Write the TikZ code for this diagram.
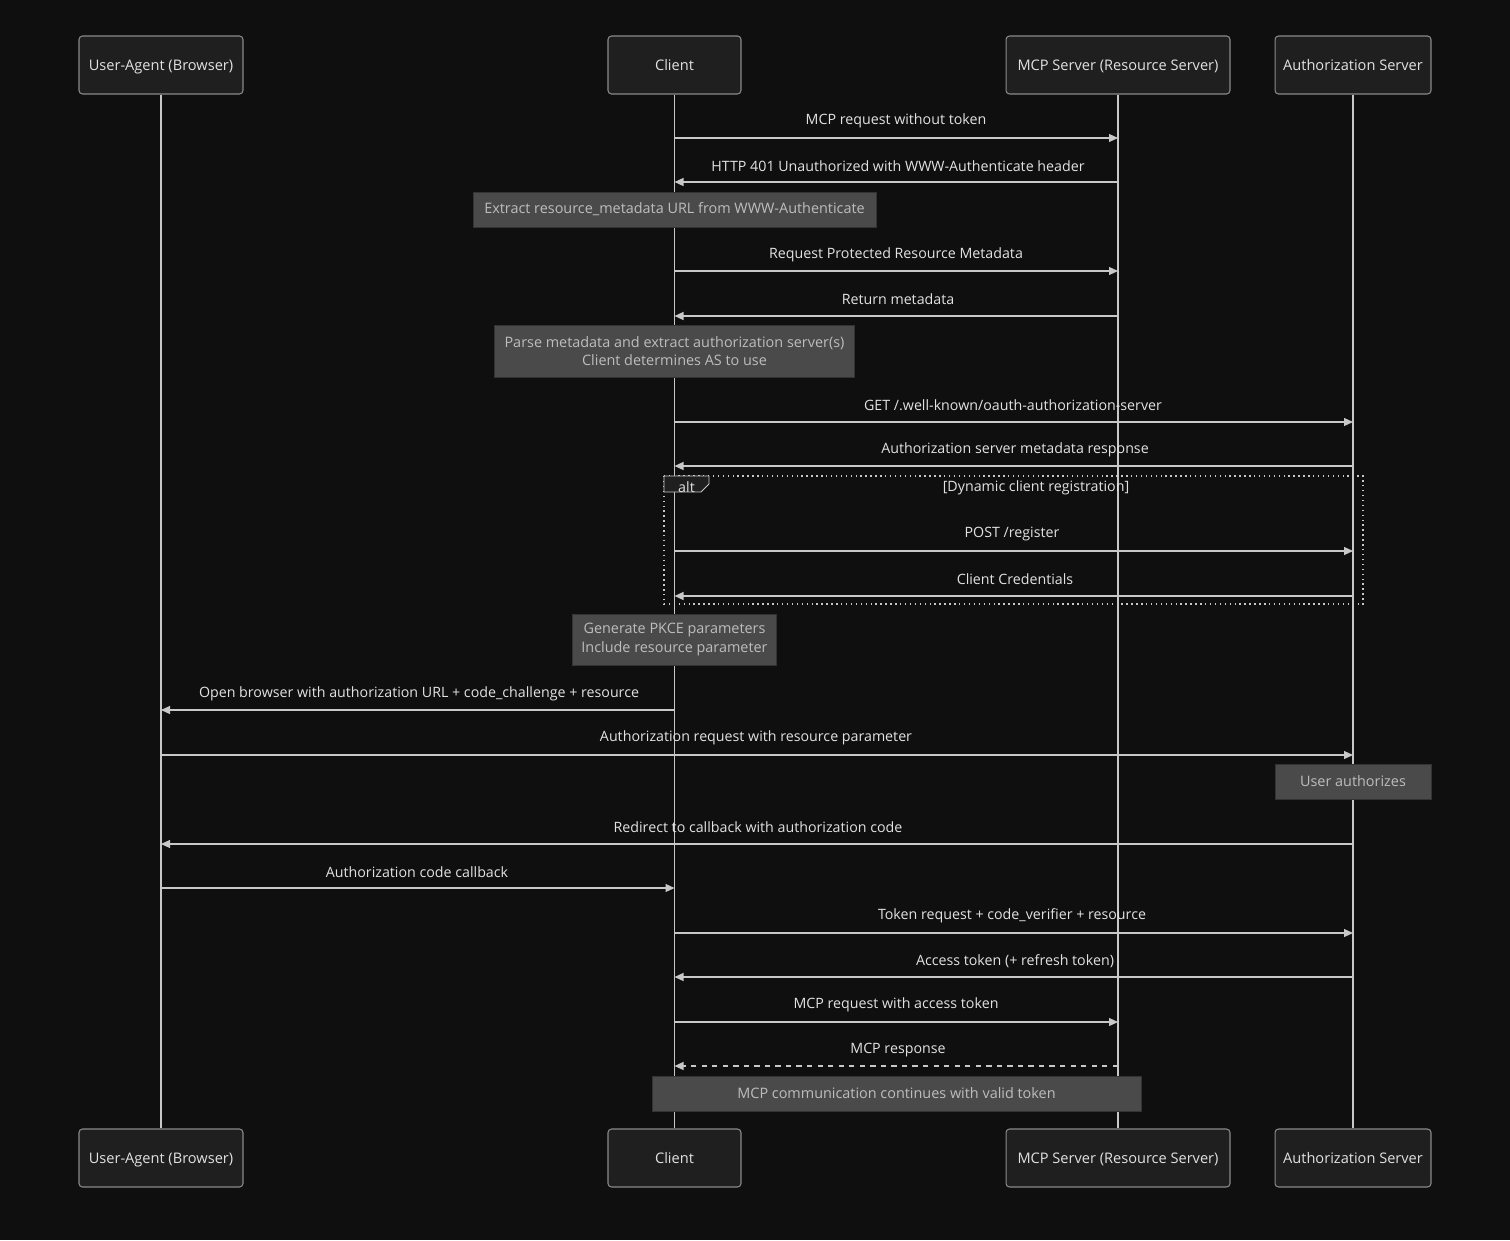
\documentclass[tikz,border=0pt]{standalone}
\usepackage{fontspec}
\setmainfont{Open Sans}
\usetikzlibrary{arrows.meta, positioning, calc}

\definecolor{bgcol}{HTML}{0F0F10}
\definecolor{boxfill}{HTML}{1F1F1F}
\definecolor{boxline}{HTML}{8A8A8A}
\definecolor{linecol}{HTML}{C8C8C8}
\definecolor{txtcol}{HTML}{E2E2E2}
\definecolor{notefill}{HTML}{4A4A4A}
\definecolor{noteline}{HTML}{333333}
\definecolor{notetxt}{HTML}{BDBDBD}

\tikzset{
    actor/.style={draw=boxline, fill=boxfill, rounded corners=2pt, line width=0.6pt,
        text=txtcol, minimum height=1.16cm, text height=1.6ex, text depth=0.35ex,
        font=\fontsize{8.3}{10}\selectfont},
    life/.style={draw=linecol, line width=0.8pt},
    msg/.style={draw=linecol, line width=0.6pt, -{Triangle[length=0.18cm, width=0.16cm]}},
    lbl/.style={text=txtcol, font=\fontsize{8.1}{10}\selectfont, inner sep=0pt},
    note/.style={draw=noteline, fill=notefill, line width=0.5pt, text=notetxt,
        align=center, font=\fontsize{8.2}{10.5}\selectfont, inner sep=0pt},
}

\begin{document}
\begin{tikzpicture}[x=0.02cm, y=-0.02cm]
    % background
    \fill[bgcol] (0,0) rectangle (1510,1240);
    \useasboundingbox (0,0) rectangle (1510,1240);

    % participants, top row
    \node[actor, minimum width=3.28cm] (ua) at (161,65) {User-Agent (Browser)};
    \node[actor, minimum width=2.66cm] (client) at (674.5,65) {Client};
    \node[actor, minimum width=4.48cm] (mcp) at (1118,65) {MCP Server (Resource Server)};
    \node[actor, minimum width=3.12cm] (as) at (1353,65) {Authorization Server};

    % participants, bottom row
    \node[actor, minimum width=3.28cm] (ua2) at (161,1158) {User-Agent (Browser)};
    \node[actor, minimum width=2.66cm] (client2) at (674.5,1158) {Client};
    \node[actor, minimum width=4.48cm] (mcp2) at (1118,1158) {MCP Server (Resource Server)};
    \node[actor, minimum width=3.12cm] (as2) at (1353,1158) {Authorization Server};

    % lifelines
    \draw[life] (ua) -- (ua2);
    \draw[life] (client) -- (client2);
    \draw[life] (mcp) -- (mcp2);
    \draw[life] (as) -- (as2);

    % discovery
    \draw[msg] (client |- 0,138) -- (mcp |- 0,138);
    \node[lbl] (m1) at (896,121) {MCP request without token};
    \draw[msg] (mcp |- 0,182) -- (client |- 0,182);
    \node[lbl] (m2) at (898,166) {HTTP 401 Unauthorized with WWW-Authenticate header};
    \node[note, minimum width=8.06cm, minimum height=0.7cm] (n1) at (674.5,209.5)
        {Extract resource\_metadata URL from WWW-Authenticate};

    \draw[msg] (client |- 0,271) -- (mcp |- 0,271);
    \node[lbl] (m3) at (896,255) {Request Protected Resource Metadata};
    \draw[msg] (mcp |- 0,316) -- (client |- 0,316);
    \node[lbl] (m4) at (898,299) {Return metadata};
    \node[note, minimum width=7.2cm, minimum height=1.04cm] (n2) at (674.5,351)
        {Parse metadata and extract authorization server(s)\\Client determines AS to use};

    \draw[msg] (client |- 0,422) -- (as |- 0,422);
    \node[lbl] (m5) at (1013,405) {GET /.well-known/oauth-authorization-server};
    \draw[msg] (as |- 0,466) -- (client |- 0,466);
    \node[lbl] (m6) at (1015,450) {Authorization server metadata response};

    % alt block
    \draw[linecol, line width=0.8pt, dotted] (664,476) rectangle (1363,604);
    \draw[linecol, line width=0.5pt, fill=boxfill] (664,476) -- (709,476) -- (709,484)
        -- (701,492) -- (664,492) -- cycle;
    \node[lbl] (alt) at (686.5,487) {alt};
    \node[lbl] (cond) at (1036,488) {[Dynamic client registration]};

    \draw[msg] (client |- 0,551) -- (as |- 0,551);
    \node[lbl] (m7) at (1012,534) {POST /register};
    \draw[msg] (as |- 0,596) -- (client |- 0,596);
    \node[lbl] (m8) at (1015,579) {Client Credentials};

    % authorization
    \node[note, minimum width=4.08cm, minimum height=1.02cm] (n3) at (674.5,639.5)
        {Generate PKCE parameters\\Include resource parameter};
    \draw[msg] (client |- 0,710) -- (ua |- 0,710);
    \node[lbl] (m9) at (419,694) {Open browser with authorization URL + code\_challenge + resource};
    \draw[msg] (ua |- 0,755) -- (as |- 0,755);
    \node[lbl] (m10) at (756,738) {Authorization request with resource parameter};
    \node[note, minimum width=3.12cm, minimum height=0.7cm] (n4) at (1353,781.5)
        {User authorizes};
    \draw[msg] (as |- 0,844) -- (ua |- 0,844);
    \node[lbl] (m11) at (758,827) {Redirect to callback with authorization code};
    \draw[msg] (ua |- 0,888) -- (client |- 0,888);
    \node[lbl] (m12) at (417,872) {Authorization code callback};

    % token
    \draw[msg] (client |- 0,933) -- (as |- 0,933);
    \node[lbl] (m13) at (1012,916) {Token request + code\_verifier + resource};
    \draw[msg] (as |- 0,977) -- (client |- 0,977);
    \node[lbl] (m14) at (1015,961) {Access token (+ refresh token)};

    % access
    \draw[msg] (client |- 0,1022) -- (mcp |- 0,1022);
    \node[lbl] (m15) at (896,1005) {MCP request with access token};
    \draw[msg, dashed] (mcp |- 0,1066) -- (client |- 0,1066);
    \node[lbl] (m16) at (898,1050) {MCP response};
    \node[note, minimum width=9.78cm, minimum height=0.7cm] (n5) at (896.5,1093.5)
        {MCP communication continues with valid token};
\end{tikzpicture}
\end{document}
